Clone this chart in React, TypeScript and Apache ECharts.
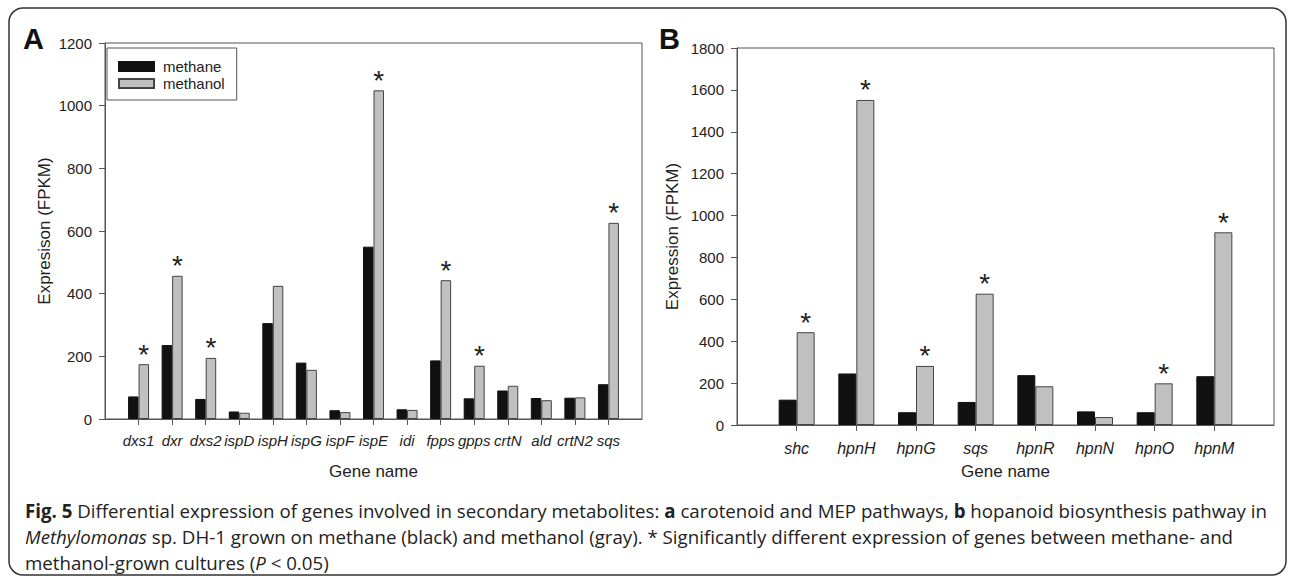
import React, { useEffect, useRef } from "react";
import * as echarts from "echarts";

// Panel A: carotenoid and MEP pathways
const genesA = ["dxs1", "dxr", "dxs2", "ispD", "ispH", "ispG", "ispF", "ispE", "idi", "fpps", "gpps", "crtN", "ald", "crtN2", "sqs"];
const methaneA = [72, 236, 64, 24, 306, 180, 28, 550, 31, 187, 66, 91, 67, 68, 111];
const methanolA = [175, 457, 195, 20, 425, 157, 22, 1049, 29, 443, 170, 106, 60, 69, 626];
const significantA = ["dxs1", "dxr", "dxs2", "ispE", "fpps", "gpps", "sqs"];
const yTicksA = { min: 0, max: 1200, interval: 200 };

// Panel B: hopanoid biosynthesis pathway
const genesB = ["shc", "hpnH", "hpnG", "sqs", "hpnR", "hpnN", "hpnO", "hpnM"];
const methaneB = [121, 246, 61, 110, 238, 65, 61, 233];
const methanolB = [443, 1552, 282, 627, 185, 38, 199, 920];
const significantB = ["shc", "hpnH", "hpnG", "sqs", "hpnO", "hpnM"];
const yTicksB = { min: 0, max: 1800, interval: 200 };

const seriesNames = ["methane", "methanol"];

const FONT = "'Liberation Sans', Arial, Helvetica, sans-serif";
const CAP_FONT = "'Open Sans', 'Noto Sans', sans-serif";

function padCats(c: string[]) {
  return ["\u200b", ...c, "\u200b\u200b"];
}
function padVals(v: number[]) {
  return [null, ...v, null];
}

function xAxisFor(gridIndex: number, cats: string[], nameGap: number, margin: number, labelSize: number) {
  const padded = padCats(cats);
  const n = padded.length;
  return {
    type: "category",
    gridIndex,
    data: padded,
    boundaryGap: false,
    name: "Gene name",
    nameLocation: "middle",
    nameGap,
    nameTextStyle: { fontSize: 17, color: "#222", fontFamily: FONT },
    axisLine: { show: true, lineStyle: { color: "#555", width: 1 } },
    axisTick: {
      show: true,
      length: 6,
      interval: (i: number) => i > 0 && i < n - 1,
      lineStyle: { color: "#555" },
    },
    axisLabel: {
      interval: 0,
      fontSize: labelSize,
      fontStyle: "italic",
      color: "#222",
      fontFamily: FONT,
      margin,
      formatter: (v: string) => (cats.indexOf(v) >= 0 ? v : ""),
    },
    splitLine: { show: false },
  };
}

function yAxisFor(gridIndex: number, ticks: any, name: string, nameGap: number) {
  return {
    type: "value",
    gridIndex,
    min: ticks.min,
    max: ticks.max,
    interval: ticks.interval,
    name,
    nameLocation: "middle",
    nameGap,
    nameTextStyle: { fontSize: 17, color: "#222", fontFamily: FONT },
    axisLine: { show: true, lineStyle: { color: "#555", width: 1 } },
    axisTick: { show: true, length: 6, lineStyle: { color: "#555" } },
    axisLabel: {
      fontSize: 15,
      color: "#222",
      fontFamily: FONT,
      margin: 13,
      formatter: (v: number) => String(v),
    },
    splitLine: { show: false },
  };
}

function barsFor(idx: number, cats: string[], m1: number[], m2: number[], sig: string[], barWidth: number) {
  const padded = padCats(cats);
  return [
    {
      name: seriesNames[0],
      type: "bar",
      xAxisIndex: idx,
      yAxisIndex: idx,
      data: padVals(m1),
      barWidth,
      barGap: "0%",
      itemStyle: { color: "#111111", borderColor: "#111111", borderWidth: 1 },
    },
    {
      name: seriesNames[1],
      type: "bar",
      xAxisIndex: idx,
      yAxisIndex: idx,
      data: padVals(m2),
      barWidth,
      barGap: "0%",
      itemStyle: { color: "#c0c0c0", borderColor: "#444444", borderWidth: 1 },
      label: {
        show: true,
        position: "top",
        distance: -4,
        fontSize: 28,
        color: "#222",
        fontFamily: FONT,
        formatter: (p: any) => (sig.indexOf(padded[p.dataIndex]) >= 0 ? "*" : ""),
      },
    },
  ];
}

export default function App() {
  const ref = useRef<HTMLDivElement>(null);
  useEffect(() => {
    if (!ref.current) return;
    const chart = echarts.init(ref.current, undefined, { renderer: "svg" });
    const capSize = 18.7;
    const capColor = "#222";
    const capLine = (text: string, y: number) => ({
      type: "text",
      x: 25,
      y,
      style: {
        text,
        fontSize: capSize,
        fontFamily: CAP_FONT,
        fill: capColor,
        verticalAlign: "middle",
        rich: {
          b: { fontWeight: "bold", fontSize: capSize, fontFamily: CAP_FONT, fill: capColor },
          i: { fontStyle: "italic", fontSize: capSize, fontFamily: CAP_FONT, fill: capColor },
        },
      },
    });
    const option: any = {
      animation: false,
      backgroundColor: "#ffffff",
      textStyle: { fontFamily: FONT },
      grid: [
        { left: 105, top: 43, width: 537, height: 376, show: true, borderColor: "#555", borderWidth: 1 },
        { left: 737, top: 48, width: 537, height: 377, show: true, borderColor: "#555", borderWidth: 1 },
      ],
      legend: {
        left: 107,
        top: 48,
        orient: "vertical",
        icon: "rect",
        itemWidth: 35,
        itemHeight: 9,
        itemGap: 2,
        padding: [11, 12, 9, 11],
        borderColor: "#555",
        borderWidth: 1,
        selectedMode: false,
        data: seriesNames,
        textStyle: { fontSize: 15, color: "#222", fontFamily: FONT, padding: [0, 0, 0, 4] },
      },
      xAxis: [xAxisFor(0, genesA, 44, 14, 15), xAxisFor(1, genesB, 38, 15, 16)],
      yAxis: [
        yAxisFor(0, yTicksA, "Expresison (FPKM)", 52),
        yAxisFor(1, yTicksB, "Expression (FPKM)", 56),
      ],
      series: [
        ...barsFor(0, genesA, methaneA, methanolA, significantA, 10.5),
        ...barsFor(1, genesB, methaneB, methanolB, significantB, 18),
      ],
      graphic: [
        {
          type: "rect",
          shape: { x: 9, y: 8, width: 1277, height: 567, r: 14 },
          style: { fill: "none", stroke: "#333", lineWidth: 1.5 },
          silent: true,
        },
        {
          type: "text",
          left: 23,
          top: 24,
          style: { text: "A", fontSize: 29, fontWeight: "bold", fontFamily: FONT, fill: "#111" },
        },
        {
          type: "text",
          left: 659,
          top: 24,
          style: { text: "B", fontSize: 29, fontWeight: "bold", fontFamily: FONT, fill: "#111" },
        },
        capLine(
          "{b|Fig. 5} Differential expression of genes involved in secondary metabolites: {b|a} carotenoid and MEP pathways, {b|b} hopanoid biosynthesis pathway in",
          510
        ),
        capLine(
          "{i|Methylomonas} sp. DH-1 grown on methane (black) and methanol (gray). * Significantly different expression of genes between methane- and",
          536
        ),
        capLine("methanol-grown cultures ({i|P} < 0.05)", 562),
      ],
    };
    chart.setOption(option);
    return () => chart.dispose();
  }, []);
  return (
    <div
      ref={ref}
      style={{ position: "fixed", left: 0, top: 0, width: 1292, height: 582, background: "#fff" }}
    />
  );
}
